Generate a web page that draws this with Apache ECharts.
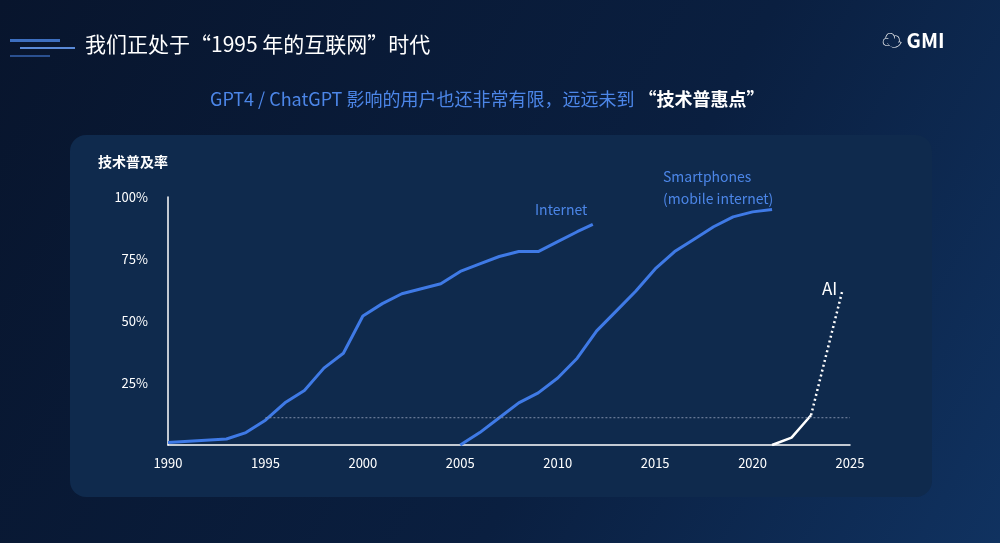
<!DOCTYPE html><html><head><meta charset="utf-8"><script src="https://cdn.jsdelivr.net/npm/echarts@6/dist/echarts.min.js"></script>
<style>html,body{margin:0;padding:0;background:#081630}#c{width:1000px;height:543px}</style></head><body><div id="c"></div><script>
const internet=[[1990,1],[1993,2.4],[1994,5],[1995,10],[1996,17],[1997,22],[1998,31],[1999,37],[2000,52],[2001,57],[2002,61],[2003,63],[2004,65],[2005,70],[2006,73],[2007,76],[2008,78],[2009,78],[2010,82],[2011,86],[2011.8,89]];
const smartphones=[[2005,0],[2006,5],[2007,11],[2008,17],[2009,21],[2010,27],[2011,35],[2012,46],[2013,54],[2014,62],[2015,71],[2016,78],[2017,83],[2018,88],[2019,92],[2020,94],[2021,95]];
const aiActual=[[2021,0],[2022,3],[2023,12]];
const aiProjected=[[2023,12],[2024.6,62]];
const threshold=[[1995,11],[2025,11]];
const yTicks=[25,50,75,100];
const c=echarts.init(document.getElementById('c'));
const F='"Noto Sans CJK SC","Noto Sans",sans-serif';
c.setOption({
backgroundColor:{type:'linear',x:0,y:0,x2:1,y2:1,colorStops:[{offset:0,color:'#08152d'},{offset:0.6,color:'#0a1f40'},{offset:1,color:'#103260'}]},
graphic:[
{type:'rect',shape:{x:70,y:135,width:862,height:362,r:16},style:{fill:'#0f2a4d'},z:-10},
{type:'rect',shape:{x:10,y:39,width:50,height:3},style:{fill:'#3d6fc0'}},
{type:'rect',shape:{x:20,y:47,width:55,height:2},style:{fill:'#5a8ad8'}},
{type:'rect',shape:{x:10,y:55,width:40,height:2},style:{fill:'#2a5090'}},
{type:'text',left:85,top:34,style:{text:'我们正处于“1995 年的互联网”时代',fill:'#fff',font:'21px '+F}},
{type:'text',left:882,top:30,style:{text:'☁ GMI',fill:'#fff',font:'bold 20px '+F}},
{type:'text',left:210,top:90,style:{rich:{a:{fill:'#4c86e8',font:'18px '+F},b:{fill:'#fff',font:'bold 18px '+F}},text:'{a|GPT4 / ChatGPT 影响的用户也还非常有限，远远未到 }{b|“技术普惠点”}'}},
{type:'text',left:98,top:155,style:{text:'技术普及率',fill:'#fff',font:'bold 14px '+F}},
{type:'text',left:535,top:203,style:{text:'Internet',fill:'#4c86e8',font:'14px '+F}},
{type:'text',left:663,top:166,style:{text:'Smartphones\n(mobile internet)',fill:'#4c86e8',font:'14px '+F,lineHeight:22}},
{type:'text',left:822,top:280,style:{text:'AI',fill:'#fff',font:'17px '+F}}
],
grid:{left:168,right:150,top:197,bottom:98},
xAxis:{type:'value',min:1990,max:2025,interval:5,axisLine:{lineStyle:{color:'#fff',width:1.5}},axisTick:{show:false},splitLine:{show:false},axisLabel:{color:'#fff',fontSize:13,fontFamily:F,margin:12,formatter:v=>String(v)}},
yAxis:{type:'value',min:0,max:100,interval:25,axisLine:{show:true,lineStyle:{color:'#fff',width:1.5}},axisTick:{show:false},splitLine:{show:false},axisLabel:{color:'#fff',fontSize:13,fontFamily:F,margin:20,formatter:v=>yTicks.includes(v)?v+'%':''}},
series:[
{type:'line',data:internet,showSymbol:false,lineStyle:{color:'#3f7ae6',width:3}},
{type:'line',data:smartphones,showSymbol:false,lineStyle:{color:'#3f7ae6',width:3}},
{type:'line',data:aiActual,showSymbol:false,lineStyle:{color:'#fff',width:2.5}},
{type:'line',data:aiProjected,showSymbol:false,lineStyle:{color:'#fff',width:2.5,type:[2,3]}},
{type:'line',data:threshold,showSymbol:false,lineStyle:{color:'#7f8ea8',width:1,type:[2,2]}}
]});
</script></body></html>
